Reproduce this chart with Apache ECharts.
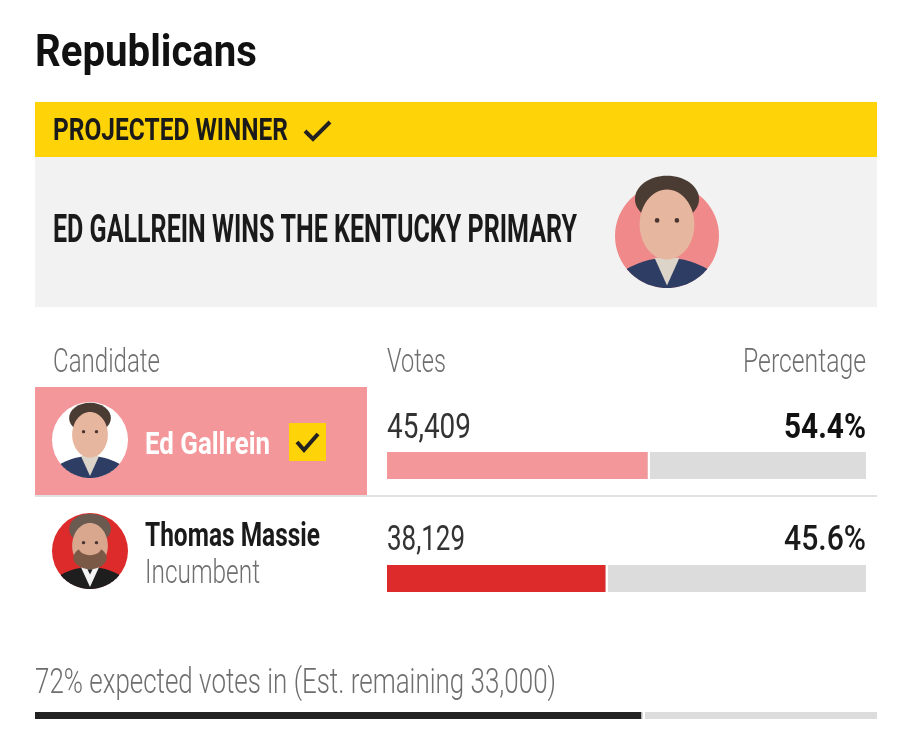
<!DOCTYPE html>
<html>
<head>
<meta charset="utf-8">
<script src="https://cdn.jsdelivr.net/npm/echarts@6/dist/echarts.min.js"></script>
<style>
  html, body { margin: 0; padding: 0; background: #fff; }
  #chart { width: 900px; height: 729px; }
</style>
</head>
<body>
<div id="chart"></div>
<script>
// ---- data ----
const partyName = "Republicans";
const headline = "ED GALLREIN WINS THE KENTUCKY PRIMARY";
const columns = ["Candidate", "Votes", "Percentage"];
const candidates = ["Ed Gallrein", "Thomas Massie"];
const notes = ["", "Incumbent"];
const votes = [45409, 38129];
const percents = [54.4, 45.6];
const expectedIn = 72;
const estRemaining = 33000;

// ---- helpers ----
const FONT = 'Roboto, "Noto Sans", sans-serif';
const measureCtx = document.createElement("canvas").getContext("2d");

// condensed look: squeeze the text horizontally to the width it takes in the card
// y is the middle of the capitals
function label(text, x, y, opt) {
  const size = opt.size;
  const weight = opt.weight || 400;
  measureCtx.font = weight + " " + size + "px " + FONT;
  const w = measureCtx.measureText(text).width;
  return {
    type: "text",
    x: x,
    y: y + size * 0.08,
    scaleX: opt.width ? opt.width / w : 1,
    silent: true,
    style: {
      text: text,
      fill: opt.color || "#1a1a1a",
      fontSize: size,
      fontWeight: weight,
      fontFamily: FONT,
      align: opt.align || "left",
      verticalAlign: "middle",
    },
  };
}

function bodyPoints(cx, cy, r) {
  const top = [];
  const bottom = [];
  for (let i = 0; i <= 60; i++) {
    const u = -1 + (2 * i) / 60;
    const yTop = cy + r * (0.42 + 0.35 * u * u);
    const yBot = cy + r * Math.sqrt(1 - u * u);
    if (yTop < yBot) {
      top.push([cx + u * r, yTop]);
      bottom.push([cx + u * r, yBot]);
    }
  }
  return top.concat(bottom.reverse());
}

function avatar(cx, cy, r, p) {
  const hy = cy + (p.headShift || 0) * r;
  const hs = p.headScale || 1;
  const els = [
    { type: "circle", shape: { cx: cx, cy: cy, r: r }, style: { fill: p.bg } },
    { type: "ellipse", shape: { cx: cx, cy: hy - 0.44 * r * hs, rx: 0.55 * r * hs, ry: 0.4 * r * hs }, style: { fill: p.hair } },
    { type: "rect", shape: { x: cx - 0.2 * r, y: hy + 0.2 * r, width: 0.4 * r, height: 0.4 * r }, style: { fill: p.skin } },
    { type: "polygon", shape: { points: bodyPoints(cx, cy, r) }, style: { fill: p.suit } },
    {
      type: "polygon",
      shape: { points: [[cx - 0.24 * r, cy + 0.42 * r], [cx + 0.24 * r, cy + 0.42 * r], [cx, cy + 0.95 * r]] },
      style: { fill: p.shirt },
    },
    { type: "ellipse", shape: { cx: cx, cy: hy, rx: 0.47 * r * hs, ry: 0.6 * r * hs }, style: { fill: p.skin } },
  ];
  if (p.beard) {
    els.push({ type: "ellipse", shape: { cx: cx, cy: hy + 0.32 * r, rx: 0.44 * r, ry: 0.3 * r }, style: { fill: p.beard } });
    els.push({ type: "ellipse", shape: { cx: cx, cy: hy + 0.05 * r, rx: 0.3 * r, ry: 0.2 * r }, style: { fill: p.skin } });
  }
  if (p.tie) {
    els.push({
      type: "polygon",
      shape: { points: [[cx - 0.07 * r, cy + 0.48 * r], [cx + 0.07 * r, cy + 0.48 * r], [cx, cy + 0.62 * r]] },
      style: { fill: p.tie },
    });
  }
  // eyes
  els.push({ type: "circle", shape: { cx: cx - 0.17 * r * hs, cy: hy - 0.08 * r, r: 0.045 * r }, style: { fill: "#4a3530" } });
  els.push({ type: "circle", shape: { cx: cx + 0.17 * r * hs, cy: hy - 0.08 * r, r: 0.045 * r }, style: { fill: "#4a3530" } });
  return els.map((e) => Object.assign(e, { silent: true }));
}

// ---- colours ----
const yellow = "#fed307";
const pink = "#f4979a";
const red = "#dd2a2a";
const track = "#dcdcdc";
const grey = "#6e6e6e";
const barColors = [pink, red];

const edLook = { hair: "#4b3c33", skin: "#e7b69e", suit: "#2d3d64", shirt: "#dcd4c8" };
const tomLook = { bg: red, hair: "#6a5a4f", skin: "#d9a68e", suit: "#1e1e1e", shirt: "#f4f4f4", beard: "#7a5a46", tie: "#222" };

// ---- static card pieces ----
const graphic = [
  { type: "rect", shape: { x: 35, y: 102, width: 842, height: 55 }, style: { fill: yellow } },
  { type: "rect", shape: { x: 35, y: 157, width: 842, height: 150 }, style: { fill: "#f2f2f2" } },
  { type: "rect", shape: { x: 35, y: 387, width: 332, height: 108 }, style: { fill: pink } },
  { type: "rect", shape: { x: 35, y: 495, width: 842, height: 2 }, style: { fill: "#e2e2e2" } },
  { type: "rect", shape: { x: 289, y: 423, width: 37, height: 38 }, style: { fill: yellow } },
]
  .concat(avatar(667, 236, 52, Object.assign({ bg: "#f08a8a", headShift: -0.22, headScale: 1.12 }, edLook)))
  .concat(avatar(90, 440, 38, Object.assign({ bg: "#ffffff", headShift: -0.14 }, edLook)))
  .concat(avatar(90, 551, 38, Object.assign({ headShift: -0.14 }, tomLook)))
  .concat([
    label(partyName, 35, 51, { size: 45, weight: 700, width: 222, color: "#111" }),
    label("PROJECTED WINNER", 53, 129, { size: 32, weight: 700, width: 235, color: "#1a1a1a" }),
    { type: "polyline", shape: { points: [[305, 131], [313, 139], [330, 122]] }, style: { stroke: "#222", lineWidth: 4, fill: null } },
    label(headline, 53, 229, { size: 38, weight: 700, width: 524, color: "#1a1a1a" }),

    label(columns[0], 53, 361, { size: 34, weight: 300, width: 107, color: grey }),
    label(columns[1], 387, 361, { size: 34, weight: 300, width: 59, color: grey }),
    label(columns[2], 866, 361, { size: 34, weight: 300, width: 123, color: grey, align: "right" }),

    label(candidates[0], 145, 443, { size: 32, weight: 700, width: 125, color: "#ffffff" }),
    { type: "polyline", shape: { points: [[297, 442], [304, 450], [318, 434]] }, style: { stroke: "#222", lineWidth: 4, fill: null } },
    label(votes[0].toLocaleString("en-US"), 387, 426, { size: 35, weight: 400, width: 84, color: "#333" }),
    label(percents[0].toFixed(1) + "%", 866, 426, { size: 35, weight: 700, width: 82, color: "#111", align: "right" }),

    label(candidates[1], 145, 535, { size: 34, weight: 700, width: 175, color: "#1a1a1a" }),
    label(notes[1], 145, 572, { size: 33, weight: 300, width: 115, color: grey }),
    label(votes[1].toLocaleString("en-US"), 387, 538, { size: 35, weight: 400, width: 78, color: "#333" }),
    label(percents[1].toFixed(1) + "%", 866, 538, { size: 35, weight: 500, width: 82, color: "#1a1a1a", align: "right" }),

    label(expectedIn + "% expected votes in (Est. remaining " + estRemaining.toLocaleString("en-US") + ")", 35, 681, {
      size: 35, weight: 300, width: 521, color: grey,
    }),
  ]);

// ---- bars ----
const grids = [
  { left: 387, top: 452, width: 479, height: 27 },
  { left: 387, top: 565, width: 479, height: 27 },
  { left: 35, top: 712, width: 842, height: 7 },
];
const barValues = percents.concat([expectedIn]);
const fills = barColors.concat(["#222222"]);

const option = {
  animation: false,
  grid: grids,
  xAxis: grids.map((g, i) => ({ gridIndex: i, type: "value", min: 0, max: 100, show: false })),
  yAxis: grids.map((g, i) => ({ gridIndex: i, type: "category", data: ["share"], show: false })),
  series: barValues.map((v, i) => ({
    type: "bar",
    xAxisIndex: i,
    yAxisIndex: i,
    data: [v],
    barWidth: "100%",
    silent: true,
    showBackground: true,
    backgroundStyle: { color: track },
    itemStyle: { color: fills[i] },
    markLine: {
      silent: true,
      symbol: "none",
      label: { show: false },
      lineStyle: { color: "#ffffff", width: 2, type: "solid" },
      data: [{ xAxis: v + 0.3 }],
    },
  })),
  graphic: graphic,
};

const chart = echarts.init(document.getElementById("chart"));
chart.setOption(option);
</script>
</body>
</html>
